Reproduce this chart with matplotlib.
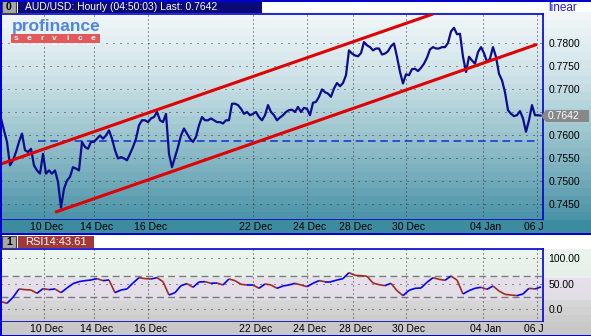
import numpy as np
import matplotlib.pyplot as plt
from matplotlib.patches import Rectangle, Polygon
from matplotlib.collections import LineCollection
from matplotlib.transforms import Bbox, TransformedBbox, blended_transform_factory

plt.rcParams['font.family'] = ['Liberation Sans', 'DejaVu Sans']

W, H = 591, 336

# --- data (one point every ~3 hours) ---
price = [
    0.7636, 0.7610, 0.7585, 0.7534, 0.7545, 0.7563, 0.7585, 0.7603, 0.7567, 0.7563,
    0.7570, 0.7534, 0.7523, 0.7516, 0.7559, 0.7516, 0.7523, 0.7516, 0.7523, 0.7498,
    0.7442, 0.7483, 0.7501, 0.7509, 0.7530, 0.7527, 0.7523, 0.7585, 0.7574, 0.7570,
    0.7585, 0.7585, 0.7592, 0.7599, 0.7592, 0.7599, 0.7610, 0.7592, 0.7567, 0.7549,
    0.7552, 0.7549, 0.7545, 0.7559, 0.7574, 0.7592, 0.7621, 0.7632, 0.7632, 0.7628,
    0.7636, 0.7639, 0.7650, 0.7632, 0.7628, 0.7646, 0.7559, 0.7530, 0.7552, 0.7574,
    0.7599, 0.7614, 0.7603, 0.7592, 0.7585, 0.7596, 0.7621, 0.7639, 0.7632, 0.7632,
    0.7636, 0.7632, 0.7628, 0.7628, 0.7625, 0.7632, 0.7632, 0.7668, 0.7668, 0.7665,
    0.7657, 0.7646, 0.7650, 0.7643, 0.7646, 0.7650, 0.7639, 0.7632, 0.7643, 0.7665,
    0.7650, 0.7643, 0.7632, 0.7638, 0.7643, 0.7650, 0.7654, 0.7655, 0.7650, 0.7661,
    0.7650, 0.7659, 0.7657, 0.7643, 0.7670, 0.7672, 0.7683, 0.7699, 0.7693, 0.7690,
    0.7683, 0.7701, 0.7713, 0.7706, 0.7713, 0.7730, 0.7784, 0.7777, 0.7773, 0.7771,
    0.7778, 0.7802, 0.7795, 0.7791, 0.7784, 0.7788, 0.7788, 0.7775, 0.7777, 0.7782,
    0.7793, 0.7799, 0.7770, 0.7737, 0.7712, 0.7732, 0.7730, 0.7743, 0.7744, 0.7739,
    0.7746, 0.7755, 0.7768, 0.7786, 0.7791, 0.7788, 0.7788, 0.7791, 0.7791, 0.7800,
    0.7825, 0.7833, 0.7819, 0.7820, 0.7770, 0.7737, 0.7770, 0.7762, 0.7755, 0.7780,
    0.7791, 0.7778, 0.7759, 0.7766, 0.7791, 0.7770, 0.7733, 0.7719, 0.7693, 0.7654,
    0.7646, 0.7641, 0.7643, 0.7652, 0.7636, 0.7607, 0.7632, 0.7665, 0.7643, 0.7643,
    0.7642,
]

# RSI(14), one point every ~6 hours
rsi = [
    14.5, 11.2, 23.0, 39.5, 38.2, 37.5, 30.9, 40.1, 38.2, 39.5,
    32.2, 41.4, 50.0, 53.9, 55.9, 57.2, 59.9, 55.9, 57.2, 32.2,
    37.5, 39.5, 51.3, 61.8, 59.9, 59.2, 61.8, 53.9, 27.6, 32.2,
    46.1, 50.0, 42.8, 53.3, 53.9, 50.7, 51.3, 47.4, 59.2, 55.9,
    48.7, 47.4, 47.4, 40.8, 49.3, 47.4, 40.8, 45.4, 47.4, 50.7,
    47.4, 44.1, 50.7, 55.9, 53.9, 53.9, 57.2, 59.9, 71.7, 66.4,
    65.8, 64.5, 51.3, 48.0, 46.1, 50.7, 36.2, 26.3, 36.8, 40.8,
    41.4, 52.6, 61.8, 58.6, 56.6, 65.1, 57.2, 29.6, 36.2, 40.8,
    42.8, 38.8, 45.4, 35.5, 28.9, 27.6, 26.3, 29.6, 40.8, 39.5,
    43.6,
]

date_labels = ['10 Dec', '14 Dec', '16 Dec', '22 Dec', '24 Dec',
               '28 Dec', '30 Dec', '04 Jan', '06 Jan']
date_pos = [14.33, 31, 49, 84, 102, 117.33, 135, 160.67, 178.67]

price_ticks = [0.7450, 0.7500, 0.7550, 0.7600, 0.7650, 0.7700, 0.7750, 0.7800]
upper_x, upper_y = [0, 144], [0.7537, 0.7863]
lower_x, lower_y = [18, 178.67], [0.7432, 0.7797]
support_x, support_y = [12.33, 179], 0.7587
last_price = 0.7642

rsi_ticks = [0, 50, 100]
rsi_tick_labels = ['0.0', '50.00', '100.00']
rsi_levels = [65, 24]
rsi_last = 43.61

title = 'AUD/USD: Hourly (04:50:03) Last: 0.7642'

BLUE = '#0000d0'
NAVY = '#0c0c90'
RED = '#e00000'
GRID = '#303030'

fig = plt.figure(figsize=(W / 100, H / 100), dpi=100)


def px_axes(x0, y0, x1, y1, **kw):
    return fig.add_axes([x0 / W, 1 - y1 / H, (x1 - x0) / W, (y1 - y0) / H], **kw)


def fx(x):
    return x / W


def fy(y):
    return 1 - y / H


def band_bg(ax, stops, cols, n):
    # horizontal banded gradient
    ys = np.linspace(0, 1, n)
    rgb = np.array([plt.matplotlib.colors.to_rgb(c) for c in cols])
    img = np.stack([np.interp(ys, stops, rgb[:, i]) for i in range(3)], axis=-1)
    ax.imshow(img[:, None, :], aspect='auto', extent=(0, 1, 1, 0), interpolation='nearest')
    ax.set_xlim(0, 1)
    ax.set_ylim(1, 0)
    ax.axis('off')


# --- backgrounds ---
bg1 = px_axes(0, 12, W, 220)
band_bg(bg1, [0, 0.3, 0.55, 0.8, 1.0],
        ['#f0f6f8', '#cfe3e8', '#a3c9d2', '#76adbc', '#4c95a8'], 26)
fig.patches.append(Rectangle((0, fy(234)), 1, (234 - 220) / H, transform=fig.transFigure,
                             facecolor='#3c8b9e', edgecolor='none', zorder=0))

bg2 = px_axes(0, 249, W, 322)
band_bg(bg2, [0, 0.33, 0.36, 0.68, 0.72, 0.85, 1.0],
        ['#eaf4ec', '#e8f1ea', '#e6e1ea', '#e2dde6', '#d8d7da', '#d4d4d4', '#cdcdcd'], 10)
fig.patches.append(Rectangle((0, 0), 1, (336 - 322) / H, transform=fig.transFigure,
                             facecolor='#c8c8c8', edgecolor='none', zorder=0))

clip = TransformedBbox(Bbox([[0, 0], [543 / W, 1]]), fig.transFigure)


def date_texts(axis, ypx):
    tr = blended_transform_factory(axis.transData, fig.transFigure)
    for d, lab in zip(date_pos, date_labels):
        t = fig.text(d + 1, fy(ypx), lab, transform=tr, ha='center', va='center',
                     fontsize=7.5, color='black')
        t.set_clip_on(True)
        t.set_clip_box(clip)


# --- main price panel ---
ax = px_axes(1, 14, 543, 220)
ax.patch.set_visible(False)
x = np.arange(len(price))
ax.set_xlim(0, 180.67)
ax.set_ylim(0.74152, 0.7863)

for p in price_ticks:
    ax.axhline(p, color=GRID, lw=0.72, ls=(0, (1, 6)), zorder=1)
for d in date_pos:
    ax.axvline(d, color=GRID, lw=0.72, ls=(0, (1, 3)), zorder=1)

ax.plot(support_x, [support_y, support_y], color='#1530d0', lw=1.1, ls=(0, (5, 3)), zorder=2)
ax.plot(x, price, color=NAVY, lw=1.6, zorder=3)
ax.plot(upper_x, upper_y, color=RED, lw=2.2, zorder=4, solid_capstyle='butt')
ax.plot(lower_x, lower_y, color=RED, lw=2.2, zorder=4, solid_capstyle='butt')

ax.set_xticks([])
ax.set_yticks(price_ticks)
# the last-price tag hides the tick label next to it
ax.set_yticklabels(['' if abs(p - last_price) < 0.0015 else f'{p:.4f}' for p in price_ticks])
ax.tick_params(axis='y', left=False, labelleft=False, right=False, labelright=True,
               length=0, pad=4, labelsize=7.5)
for s in ax.spines.values():
    s.set_color(BLUE)
    s.set_linewidth(1.2)
date_texts(ax, 227)

# last price marker
fig.patches.append(Polygon([(fx(541), fy(116)), (fx(546), fy(110)), (fx(589), fy(110)),
                            (fx(589), fy(122)), (fx(546), fy(122))], closed=True,
                           transform=fig.transFigure, facecolor='#888888', edgecolor='none'))
fig.text(fx(548), fy(116), f'{last_price:.4f}', color='white', fontsize=7.5,
         ha='left', va='center')

# --- RSI panel ---
ax2 = px_axes(1, 249, 543, 322)
ax2.patch.set_visible(False)
ax2.set_xlim(0, 180.67)
ax2.set_ylim(-25.7, 118.4)
for v in rsi_ticks:
    ax2.axhline(v, color=GRID, lw=0.72, ls=(0, (1, 6)), zorder=1)
for d in date_pos:
    ax2.axvline(d, color=GRID, lw=0.72, ls=(0, (1, 3)), zorder=1)
for v in rsi_levels:
    ax2.axhline(v, color='#7a7a7a', lw=1.0, ls=(0, (5, 3)), zorder=1)

rx = np.arange(len(rsi)) * 2
pts = np.column_stack([rx, rsi])
segs = np.stack([pts[:-1], pts[1:]], axis=1)
cols = ['#0000ff' if b >= a else '#a02828' for a, b in zip(rsi[:-1], rsi[1:])]
ax2.add_collection(LineCollection(segs, colors=cols, linewidths=1.2, zorder=3))

ax2.set_xticks([])
ax2.set_yticks(rsi_ticks)
ax2.set_yticklabels(rsi_tick_labels)
ax2.tick_params(axis='y', left=False, labelleft=False, right=False, labelright=True,
                length=0, pad=4, labelsize=7.5)
for s in ax2.spines.values():
    s.set_color(BLUE)
    s.set_linewidth(1.2)
date_texts(ax2, 329)

# --- header bars ---
def box_icon(x0, y0, label):
    fig.patches.append(Rectangle((fx(x0), fy(y0 + 12)), 14 / W, 12 / H, transform=fig.transFigure,
                                 facecolor='#a8a8a8', edgecolor='#404040', lw=0.8))
    fig.text(fx(x0 + 7), fy(y0 + 6), label, fontsize=7.5, fontweight='bold',
             ha='center', va='center', color='black')


box_icon(2, 1, '0')
fig.patches.append(Rectangle((fx(18), fy(13)), 244 / W, 12 / H, transform=fig.transFigure,
                             facecolor='#0a0a78', edgecolor='none'))
fig.text(fx(25), fy(7), title, color='white', fontsize=7.5, ha='left', va='center')
fig.text(fx(548), fy(8), 'linear', color='#1a1af0', fontsize=8.5, ha='left', va='center')

box_icon(2, 236, '1')
fig.patches.append(Rectangle((fx(18), fy(248)), 76 / W, 12 / H, transform=fig.transFigure,
                             facecolor='#a33838', edgecolor='none'))
fig.text(fx(25), fy(242), f'RSI14:{rsi_last:.2f}', color='white', fontsize=8,
         ha='left', va='center')

# separators / outer frame
fig.patches.append(Rectangle((0, fy(235)), 1, 2 / H, transform=fig.transFigure,
                             facecolor=BLUE, edgecolor='none'))
fig.patches.append(Rectangle((0, 0), 2 / W, 1, transform=fig.transFigure,
                             facecolor=BLUE, edgecolor='none'))
fig.patches.append(Rectangle((0, 1 - 1.5 / H), 1, 1.5 / H, transform=fig.transFigure,
                             facecolor=BLUE, edgecolor='none'))
fig.patches.append(Rectangle((0, 0), 1, 1.5 / H, transform=fig.transFigure,
                             facecolor=BLUE, edgecolor='none'))

# --- logo ---
fig.patches.append(Rectangle((fx(10), fy(45)), 91 / W, 27 / H, transform=fig.transFigure,
                             facecolor='#eef4f6', edgecolor='none', alpha=0.8))
fig.text(fx(56), fy(26.5), 'profinance', color='#4f86e6', fontsize=12.5, fontweight='bold',
         ha='center', va='center')
fig.patches.append(Rectangle((fx(11), fy(43)), 89 / W, 9 / H, transform=fig.transFigure,
                             facecolor='#e35858', edgecolor='none'))
for i, ch in enumerate('service'):
    fig.text(fx(16 + i * 12.8), fy(38.5), ch, color='white', fontsize=6, fontweight='bold',
             ha='center', va='center')

fig.savefig('out.png', dpi=100, facecolor='white')
